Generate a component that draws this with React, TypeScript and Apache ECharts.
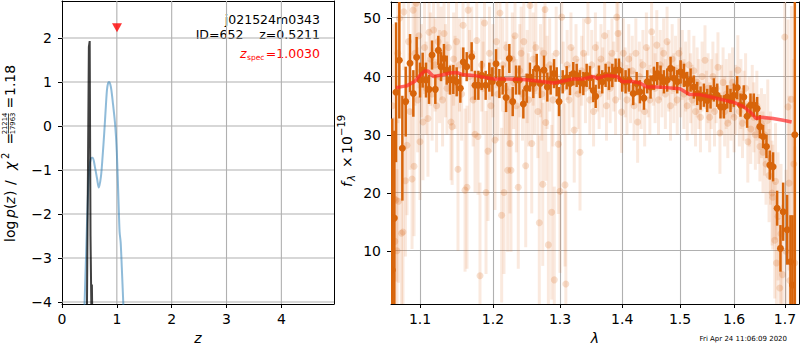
import React, { useEffect, useRef } from "react";
import * as echarts from "echarts";

// ---------- left panel: p(z) ----------
const zTicks = [0, 1, 2, 3, 4];
const logpTicks = [-4, -3, -2, -1, 0, 1, 2];
const zRange = [0, 4.96];
const logpRange = [-4.045, 2.84];

const pzZ = [0.41, 0.44, 0.47, 0.5, 0.53, 0.56, 0.6, 0.64, 0.67, 0.71, 0.74, 0.77, 0.8, 0.82, 0.84, 0.86, 0.88, 0.9, 0.93, 0.97, 1.0, 1.03, 1.05, 1.07, 1.09, 1.12];
const pzLogp = [-4.1, -2.9, -1.68, -0.95, -0.73, -0.72, -0.93, -1.2, -1.4, -1.15, -0.7, -0.16, 0.45, 0.82, 0.97, 1.0, 0.95, 0.82, 0.5, 0.02, -0.6, -1.68, -2.4, -2.65, -3.2, -4.1];

const chiZ = [0.455, 0.49, 0.505, 0.52, 0.535, 0.545, 0.552];
const chiLogp = [-4.1, 1.8, 1.93, -2.5, -4.1, -3.6, -4.3];

const zSpec = 1.003;
const zSpecMarkY = 2.23;

// ---------- right panel: spectrum ----------
const lamTicks = [1.1, 1.2, 1.3, 1.4, 1.5, 1.6, 1.7];
const fluxTicks = [10, 20, 30, 40, 50];
const lamRange = [1.0626, 1.7287];
const fluxRange = [0.953, 52.8];

const binLam = [
  1.0642, 1.0668, 1.069, 1.0732, 1.0771, 1.0814, 1.087, 1.0913, 1.0956, 1.1,
  1.1035, 1.1079, 1.1119, 1.1159, 1.1203, 1.1243, 1.1279, 1.1319, 1.1356, 1.1401,
  1.1446, 1.1492, 1.1542, 1.1583, 1.163, 1.1699, 1.1746, 1.1793, 1.184, 1.1896,
  1.1948, 1.1991, 1.2044, 1.2092, 1.214, 1.2189, 1.2237, 1.2286, 1.2335, 1.2384,
  1.2443, 1.2493, 1.2542, 1.2592, 1.2643, 1.2693, 1.2754, 1.2804, 1.2855, 1.2907,
  1.2948, 1.2984, 1.3041, 1.3103, 1.3155, 1.3207, 1.326, 1.3313, 1.3366, 1.3419,
  1.3472, 1.3526, 1.3564, 1.3617, 1.3671, 1.3726, 1.3781, 1.3836, 1.3891, 1.3946,
  1.4001, 1.4057, 1.4113, 1.4186, 1.4243, 1.4299, 1.4368, 1.4425, 1.4482, 1.454,
  1.4598, 1.4656, 1.4714, 1.4773, 1.4832, 1.4891, 1.495, 1.501, 1.507, 1.5129,
  1.519, 1.525, 1.5311, 1.5372, 1.5433, 1.5494, 1.5556, 1.5618, 1.568, 1.5742,
  1.5805, 1.5868, 1.5931, 1.5994, 1.6058, 1.6122, 1.6186, 1.625, 1.6315, 1.638,
  1.6445, 1.6497, 1.6563, 1.6629, 1.6695, 1.6761, 1.6842, 1.6909, 1.6963, 1.7044,
  1.7112, 1.7153, 1.7201,
];
const binFlux = [
  6.8, 15.7, 37.3, 42.8, 27.7, 35.7, 42.3, 37.1, 43.3, 39.4,
  41.1, 39.4, 37.8, 43.7, 37.8, 44.5, 41.7, 43.1, 41.1, 39.4,
  39.5, 39.1, 38.0, 42.5, 41.7, 43.4, 38.5, 38.5, 40.2, 38.5,
  39.9, 39.1, 42.2, 38.8, 39.4, 36.4, 43.1, 35.7, 39.4, 39.4,
  35.3, 38.0, 39.9, 38.8, 41.4, 38.8, 41.1, 38.2, 39.4, 40.5,
  39.1, 35.7, 39.1, 39.8, 38.8, 40.5, 40.2, 39.1, 38.8, 40.2,
  39.8, 37.6, 36.6, 39.9, 39.1, 40.2, 39.7, 40.2, 41.1, 41.1,
  39.4, 39.1, 39.4, 37.1, 38.8, 37.4, 36.3, 39.1, 38.2, 39.7,
  40.5, 39.9, 39.1, 39.4, 41.4, 39.7, 39.1, 40.8, 40.2, 38.8,
  39.4, 38.2, 37.1, 36.3, 36.8, 35.9, 36.5, 37.7, 36.8, 34.8,
  34.8, 36.5, 35.9, 36.8, 38.1, 35.1, 36.5, 33.2, 35.1, 35.1,
  34.5, 31.4, 29.7, 28.0, 24.8, 24.5, 17.4, 10.5, 16.8, 13.7,
  8.2, 4.2, 30,
];
const binErr = [
  26, 15, 12, 10, 9, 6, 5, 4, 3.5, 3,
  3, 3, 2.5, 2.5, 2.5, 2.5, 2.5, 2.5, 2.5, 2.5,
  2.5, 2.5, 2.5, 2.5, 2.5, 2.5, 2.5, 2.5, 2.5, 2.5,
  2.5, 2.5, 2.5, 2.5, 2.5, 2.5, 2.5, 2.5, 2.5, 2.5,
  2.5, 2.5, 2.5, 2.5, 2.5, 2.5, 2.5, 2.5, 2.5, 2.5,
  2.5, 2.5, 2, 2, 2, 2, 2, 2, 2, 2,
  2, 2, 2, 2, 2, 2, 2, 2, 2, 2,
  2, 2, 2, 2, 2, 2, 2, 2, 2, 2,
  2, 2, 2, 2, 2, 2, 2, 2, 2, 2,
  2, 2, 2, 2, 2, 2, 2, 2, 2, 2,
  2, 2, 2, 2, 2, 2, 2, 2, 2, 2,
  2, 2, 2, 2, 2.5, 2.5, 3, 4, 5, 6,
  8, 12, 40,
];

const rawLam = [
  1.0645, 1.0665, 1.0675, 1.069, 1.0702, 1.0712, 1.0722, 1.0735, 1.076, 1.0779,
  1.079, 1.081, 1.0831, 1.085, 1.087, 1.0896, 1.091, 1.0922, 1.0935, 1.095,
  1.097, 1.0985, 1.1, 1.102, 1.1039, 1.106, 1.108, 1.1105, 1.112, 1.114,
  1.116, 1.118, 1.12, 1.122, 1.124, 1.126, 1.128, 1.13, 1.132, 1.134,
  1.136, 1.138, 1.1414, 1.143, 1.145, 1.147, 1.149, 1.151, 1.153, 1.156,
  1.158, 1.1607, 1.1634, 1.165, 1.167, 1.17, 1.172, 1.1746, 1.177, 1.1788,
  1.1816, 1.184, 1.186, 1.188, 1.1901, 1.1929, 1.195, 1.197, 1.2, 1.2029,
  1.205, 1.207, 1.2101, 1.2125, 1.214, 1.2159, 1.218, 1.22, 1.2213, 1.223,
  1.2246, 1.2261, 1.228, 1.23, 1.232, 1.234, 1.2368, 1.239, 1.241, 1.243,
  1.245, 1.2478, 1.25, 1.252, 1.2542, 1.2568, 1.259, 1.261, 1.263, 1.266,
  1.2682, 1.27, 1.272, 1.2734, 1.275, 1.2769, 1.278, 1.28, 1.282, 1.284,
  1.2871, 1.289, 1.2911, 1.294, 1.2973, 1.2999, 1.3026, 1.305, 1.3077, 1.309,
  1.311, 1.314, 1.317, 1.32, 1.3222, 1.325, 1.328, 1.3313, 1.334, 1.337,
  1.34, 1.344, 1.347, 1.35, 1.353, 1.356, 1.359, 1.362, 1.365, 1.368,
  1.371, 1.374, 1.377, 1.38, 1.383, 1.386, 1.389, 1.391, 1.393, 1.396,
  1.399, 1.402, 1.405, 1.408, 1.411, 1.414, 1.417, 1.42, 1.423, 1.426,
  1.429, 1.432, 1.435, 1.438, 1.441, 1.444, 1.447, 1.45, 1.453, 1.456,
  1.459, 1.462, 1.465, 1.468, 1.471, 1.474, 1.477, 1.48, 1.483, 1.486,
  1.489, 1.492, 1.495, 1.498, 1.501, 1.504, 1.507, 1.51, 1.513, 1.516,
  1.519, 1.522, 1.525, 1.528, 1.531, 1.534, 1.537, 1.54, 1.5453, 1.548,
  1.551, 1.554, 1.557, 1.56, 1.563, 1.566, 1.5694, 1.5731, 1.576, 1.579,
  1.582, 1.585, 1.588, 1.591, 1.594, 1.597, 1.6, 1.603, 1.6071, 1.61,
  1.613, 1.616, 1.619, 1.622, 1.6264, 1.629, 1.632, 1.635, 1.638, 1.641,
  1.644, 1.647, 1.65, 1.653, 1.656, 1.659, 1.662, 1.6655, 1.668, 1.671,
  1.674, 1.6754, 1.6794, 1.681, 1.6828, 1.686, 1.6895, 1.692, 1.695, 1.6996,
  1.702, 1.7063, 1.7083, 1.71, 1.7132, 1.715, 1.718, 1.72,
];
const rawFlux = [
  35, 19, 11.7, 18.8, 10.1, 44, 18.6, 50, 13.1, 13.3,
  51.1, 22.1, 28.2, 46, 34, 22.4, 51.4, 24.6, 44, 52.6,
  36, 47, 28.8, 41, 32.2, 45, 38, 32.8, 47.6, 43,
  37, 48.0, 42, 35, 46, 40, 44, 36, 47.4, 41,
  38, 45, 32.2, 31.4, 43, 39, 46, 24.1, 42, 37,
  48.8, 20.5, 21.0, 51.4, 40, 44, 36, 30.1, 46.2, 29.7,
  5.8, 42, 38, 49.2, 20.1, 27.2, 44, 35, 41, 29.1,
  46, 37, 50.9, 16.2, 42, 20.1, 38, 45, 23.9, 36,
  28.5, 23.9, 43, 39, 47, 35, 21.0, 41, 44, 37,
  46, 24.7, 40, 36, 52.2, 28.5, 43, 38, 45, 34,
  14.9, 41, 37, 21.5, 44, 51.5, 32.1, 39, 11.1, 42,
  16.7, 36, 5.1, 44, 28.4, 20.3, 50.2, 38, 21.4, 4.4,
  42, 36, 45, 39, 30.8, 43, 37, 27.0, 41, 44,
  38, 49.6, 36, 42, 34, 45, 40, 37, 43, 39,
  47, 35, 42, 38, 44, 40, 36, 50.2, 47.4, 42,
  33.9, 44, 39, 36, 43, 38, 41, 35, 44, 32.2,
  40, 37, 42, 34, 45, 39, 36, 47.7, 41, 38,
  45.4, 36, 42, 39, 44, 37, 46, 40, 35, 43,
  38, 41, 36, 44, 39, 42, 37, 40, 35, 42,
  38, 36, 41, 34, 39, 37, 33, 40, 42.8, 35,
  38, 33, 37, 40, 34, 38, 41.6, 30.3, 36, 39,
  34, 37, 32, 38, 35, 39, 33, 36, 41.1, 34,
  37, 32, 35, 38, 28.8, 34, 31, 36, 33, 30,
  35, 31, 28, 32, 27, 30, 25, 32.5, 23, 26,
  20, 19.3, 11.9, 22, 8.0, 16, 3.7, 13, 6, 46.8,
  10, 34.8, 21.7, 5, 36.1, 14.2, 25, 8,
];
const rawErr = [
  14, 14, 14, 14, 14, 12, 14, 10, 14, 14,
  10, 13, 12, 10, 10, 12, 9, 12, 9, 9,
  9, 9, 10, 8, 10, 8, 8, 10, 8, 8,
  8, 8, 8, 8, 8, 8, 8, 8, 8, 8,
  8, 8, 10, 10, 8, 8, 8, 14, 8, 8,
  8, 14, 14, 8, 8, 8, 8, 10, 8, 10,
  16, 8, 8, 8, 14, 12, 8, 8, 8, 12,
  8, 8, 8, 15, 8, 14, 8, 8, 14, 8,
  12, 14, 8, 8, 8, 8, 14, 8, 8, 8,
  8, 14, 8, 8, 8, 12, 8, 8, 8, 8,
  15, 8, 8, 14, 8, 8, 10, 8, 16, 8,
  15, 8, 16, 8, 12, 14, 8, 8, 14, 16,
  6, 6, 6, 6, 9, 6, 6, 10, 6, 6,
  6, 6, 6, 6, 6, 6, 6, 6, 6, 6,
  6, 6, 6, 6, 6, 6, 6, 6, 6, 6,
  7, 6, 6, 6, 6, 6, 6, 6, 6, 7,
  6, 6, 6, 6, 6, 6, 6, 6, 6, 6,
  6, 6, 6, 6, 6, 6, 6, 6, 6, 6,
  6, 6, 6, 6, 6, 6, 6, 6, 6, 6,
  6, 6, 6, 6, 6, 6, 6, 6, 6, 6,
  6, 6, 6, 6, 6, 6, 6, 7, 6, 6,
  6, 6, 6, 6, 6, 6, 6, 6, 6, 6,
  6, 6, 6, 6, 7, 6, 6, 6, 6, 6,
  6, 6, 6, 6, 7, 7, 7, 7, 8, 8,
  9, 9, 10, 10, 11, 11, 12, 12, 12, 14,
  14, 15, 15, 15, 16, 16, 18, 20,
];

const modelLam = [
  1.069, 1.0826, 1.0935, 1.1, 1.1066, 1.111, 1.1176, 1.1265, 1.1401, 1.1492,
  1.1583, 1.1723, 1.1863, 1.2005, 1.2198, 1.2443, 1.2693, 1.2896, 1.2999, 1.3207,
  1.3366, 1.3526, 1.3591, 1.3754, 1.3919, 1.4001, 1.4143, 1.4299, 1.4414, 1.4586,
  1.4761, 1.4998, 1.5178, 1.536, 1.5605, 1.5792, 1.5981, 1.6173, 1.6335, 1.642,
  1.6531, 1.6761, 1.6963, 1.7136,
];
const modelFlux = [
  38.1, 38.4, 39.2, 40.2, 41.0, 40.9, 40.0, 40.2, 40.6, 40.7,
  40.3, 40.2, 39.9, 39.6, 39.6, 39.5, 39.2, 38.9, 39.1, 39.6,
  39.6, 40.0, 39.7, 40.2, 40.0, 39.1, 39.2, 38.9, 38.2, 38.2,
  38.1, 37.9, 36.9, 36.9, 36.4, 36.0, 35.6, 34.9, 33.7, 32.8,
  33.0, 32.8, 32.5, 32.2,
];

// ---------- texts ----------
const objName = "j021524m0343";
const idLine = "ID=652    z=0.5211";
const zSpecText = "=1.0030";
const timeStamp = "Fri Apr 24 11:06:09 2020";

const FONT = "DejaVu Sans";
const ORANGE = "#d7640a";
const LIGHT_BAR = "rgba(217,100,20,0.14)";
const LIGHT_DOT = "rgba(217,100,20,0.2)";
const GRID = "#b0b0b0";

function errSeries(lam: number[], flux: number[], err: number[], bar: string, dot: string, barW: number, r: number, z: number) {
  return {
    type: "custom",
    xAxisIndex: 1,
    yAxisIndex: 1,
    z,
    clip: true,
    encode: { x: 0, y: 1 },
    data: lam.map((l, i) => [Math.log(l), flux[i], err[i]]),
    renderItem: (params: any, api: any) => {
      const cs = params.coordSys;
      const x = api.value(0), y = api.value(1), e = api.value(2);
      const p = api.coord([x, y]);
      const t = api.coord([x, y + e]);
      const b = api.coord([x, y - e]);
      const top = Math.max(t[1], cs.y);
      const bot = Math.min(b[1], cs.y + cs.height);
      const children: any[] = [];
      if (bot > top) {
        children.push({ type: "line", shape: { x1: p[0], y1: top, x2: p[0], y2: bot }, style: { stroke: bar, lineWidth: barW } });
      }
      if (p[1] >= cs.y && p[1] <= cs.y + cs.height) {
        children.push({ type: "circle", shape: { cx: p[0], cy: p[1], r }, style: { fill: dot } });
      }
      return { type: "group", children };
    },
  };
}

// right-panel grid lines through the axes' own scales: kind 0 = vertical, 1 = horizontal
function gridLines(idx: number, xs: number[], ys: number[], x0: number, y0: number) {
  const data = [...xs.map((v) => [v, y0, 0]), ...ys.map((v) => [x0, v, 1])];
  return {
    type: "custom", xAxisIndex: idx, yAxisIndex: idx, z: 1, silent: true,
    encode: { x: 0, y: 1 },
    data,
    renderItem: (params: any, api: any) => {
      const cs = params.coordSys;
      const p = api.coord([api.value(0), api.value(1)]);
      const vertical = api.value(2) === 0;
      const px = Math.round(p[0]) + 0.5;
      const py = Math.round(p[1]) - 0.5;
      const shape = vertical
        ? { x1: px, y1: cs.y, x2: px, y2: cs.y + cs.height }
        : { x1: cs.x, y1: py, x2: cs.x + cs.width, y2: py };
      return { type: "line", shape, style: { stroke: GRID, lineWidth: 1.1 } };
    },
  };
}

// left-panel grid lines as plain two-point line series (same mechanism as the curves)
function leftGridSeries() {
  const seg = (data: number[][]) => ({
    type: "line", xAxisIndex: 0, yAxisIndex: 0, z: 3, silent: true,
    data, symbol: "none", showSymbol: false, clip: true,
    lineStyle: { color: GRID, width: 1.1 },
    emphasis: { disabled: true },
  });
  return [
    ...zTicks.filter((v) => v > zRange[0]).map((v) => seg([[v, logpRange[0]], [v, logpRange[1]]])),
    ...logpTicks.map((v) => seg([[zRange[0], v], [zRange[1], v]])),
  ];
}

const minusFmt = (v: number) => (v < 0 ? "\u2212" + Math.abs(v) : String(v));

function axisBase(ticks: number[], fmt: (v: number) => string, margin: number) {
  return {
    type: "value",
    axisLine: { show: true, onZero: false, lineStyle: { color: "#000", width: 1 } },
    axisTick: { show: true, inside: false, length: 4, customValues: ticks, lineStyle: { color: "#000", width: 1 } },
    axisLabel: { show: true, customValues: ticks, formatter: fmt, color: "#000", fontSize: 14, fontFamily: FONT, margin },
    splitLine: { show: false },
  };
}

// frame-only axis (top / right spines)
function spine(gridIndex: number, position: string, min: number, max: number) {
  return {
    type: "value", gridIndex, position, min, max,
    axisLine: { show: true, onZero: false, lineStyle: { color: "#000", width: 1 } },
    axisTick: { show: false }, axisLabel: { show: false }, splitLine: { show: false },
  };
}

const txt = (text: string, x: number, y: number, size: number, extra: any = {}) => ({
  type: "text", x, y,
  style: { text, fontSize: size, fill: "#000", fontFamily: FONT, align: "left", verticalAlign: "middle", ...extra },
});

export default function App() {
  const ref = useRef<HTMLDivElement>(null);
  useEffect(() => {
    const chart = echarts.init(ref.current!, null, { renderer: "svg" });
    const lnTicks = lamTicks.map((l) => Math.log(l));
    const lnMin = Math.log(lamRange[0]);
    const lnMax = Math.log(lamRange[1]);
    const option: any = {
      animation: false,
      textStyle: { fontFamily: FONT },
      grid: [
        { left: 62, top: 1, width: 272, height: 303, show: false },
        { left: 391, top: 2, width: 408, height: 302, show: false },
      ],
      xAxis: [
        {
          ...axisBase(zTicks, (v: number) => String(v), 8),
          gridIndex: 0, position: "bottom", min: zRange[0], max: zRange[1],
          name: "z", nameLocation: "middle", nameGap: 27,
          nameTextStyle: { fontStyle: "italic", fontSize: 14, color: "#000", fontFamily: FONT },
        },
        {
          ...axisBase(lnTicks, (v: number) => Math.exp(v).toFixed(1), 8),
          gridIndex: 1, position: "bottom", min: lnMin, max: lnMax,
          name: "λ", nameLocation: "middle", nameGap: 27,
          nameTextStyle: { fontStyle: "italic", fontSize: 14, color: "#000", fontFamily: FONT },
        },
        spine(0, "top", zRange[0], zRange[1]),
        spine(1, "top", lnMin, lnMax),
      ],
      yAxis: [
        { ...axisBase(logpTicks, minusFmt, 10), gridIndex: 0, position: "left", min: logpRange[0], max: logpRange[1] },
        { ...axisBase(fluxTicks, (v: number) => String(v), 10), gridIndex: 1, position: "left", min: fluxRange[0], max: fluxRange[1] },
        spine(0, "right", logpRange[0], logpRange[1]),
        spine(1, "right", fluxRange[0], fluxRange[1]),
      ],
      series: [
        ...leftGridSeries(),
        gridLines(1, lnTicks, fluxTicks, lnMin, fluxRange[0]),
        {
          type: "line", xAxisIndex: 0, yAxisIndex: 0, z: 4, clip: true,
          data: pzZ.map((z, i) => [z, pzLogp[i]]),
          smooth: 0.3, symbol: "none",
          lineStyle: { color: "rgba(31,119,180,0.5)", width: 2 },
        },
        {
          type: "line", xAxisIndex: 0, yAxisIndex: 0, z: 5, clip: true,
          data: chiZ.map((z, i) => [z, chiLogp[i]]),
          symbol: "none",
          lineStyle: { color: "rgba(0,0,0,0.75)", width: 2 },
        },
        {
          type: "scatter", xAxisIndex: 0, yAxisIndex: 0, z: 6,
          data: [[zSpec, zSpecMarkY]],
          symbol: "triangle", symbolRotate: 180, symbolSize: [10, 9],
          itemStyle: { color: "#ff0000" },
        },
        errSeries(rawLam, rawFlux, rawErr, LIGHT_BAR, LIGHT_DOT, 3, 3.5, 2),
        errSeries(binLam, binFlux, binErr, ORANGE, ORANGE, 2.5, 3.5, 3),
        {
          type: "line", xAxisIndex: 1, yAxisIndex: 1, z: 6, clip: true,
          data: modelLam.map((l, i) => [Math.log(l), modelFlux[i]]),
          symbol: "none",
          lineStyle: { color: "rgba(255,40,40,0.7)", width: 3.5 },
        },
      ],
      graphic: [
        txt(objName, 320, 19, 12.5, { align: "right" }),
        txt(idLine, 320, 34, 12.5, { align: "right" }),
        txt(zSpecText, 320, 53, 12.5, { align: "right", fill: "#ff0000" }),
        txt("spec", 247, 57, 7.5, { align: "left", fill: "#ff0000" }),
        txt("z", 246.5, 53, 12.5, { align: "right", fill: "#ff0000", fontStyle: "italic" }),
        {
          type: "group", x: 10, y: 242, rotation: Math.PI / 2,
          children: [
            txt("log", 0, 0, 14),
            txt("p", 24, 0, 14, { fontStyle: "italic" }),
            txt("(", 33, 0, 14),
            txt("z", 38, 0, 14, { fontStyle: "italic" }),
            txt(")", 46, 0, 14),
            txt("/", 57, 0, 14),
            txt("χ", 72, 0, 14, { fontStyle: "italic" }),
            txt("2", 83, -5, 10),
            txt("=", 97.5, 0, 14),
            txt("21214", 118.5, -5.5, 6.8, { align: "center" }),
            { type: "line", shape: { x1: 108.5, y1: -1.5, x2: 128.5, y2: -1.5 }, style: { stroke: "#000", lineWidth: 0.7 } },
            txt("17963", 118.5, 3, 6.8, { align: "center" }),
            txt("=", 133.5, 0, 14),
            txt("1.18", 146, 0, 14),
          ],
        },
        {
          type: "group", x: 347, y: 187, rotation: Math.PI / 2,
          children: [
            txt("f", 0, 0, 14, { fontStyle: "italic" }),
            txt("λ", 6, 4, 10, { fontStyle: "italic" }),
            txt("×", 19, 0, 14),
            txt("10", 33, 0, 14),
            txt("\u221219", 51, -6, 10),
          ],
        },
        txt(timeStamp, 787, 339, 7, { align: "right" }),
      ],
    };
    chart.setOption(option);
    return () => chart.dispose();
  }, []);
  return <div ref={ref} style={{ position: "absolute", left: 0, top: 0, width: 800, height: 350 }} />;
}
